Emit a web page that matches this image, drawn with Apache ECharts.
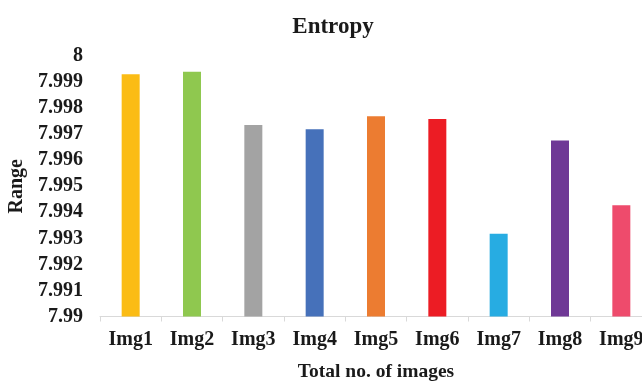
<!DOCTYPE html>
<html>
<head>
<meta charset="utf-8">
<script src="https://cdn.jsdelivr.net/npm/echarts@6/dist/echarts.min.js"></script>
<style>
  html, body { margin: 0; padding: 0; background: #ffffff; }
  #chart { width: 642px; height: 381px; }
</style>
</head>
<body>
<div id="chart"></div>
<script>
// Entropy value of each test image
const categories = ['Img1', 'Img2', 'Img3', 'Img4', 'Img5', 'Img6', 'Img7', 'Img8', 'Img9'];
const entropyValues = [7.9993, 7.9994, 7.99735, 7.99719, 7.99769, 7.99758, 7.99318, 7.99676, 7.99427];
const barColors = ['#FBBC15', '#8FC84F', '#A3A3A3', '#4671BA', '#EC7C31', '#EC1C24', '#27ACE2', '#6F3896', '#EE4B6C'];
const yMin = 7.99;
const yMax = 8;
const yStep = 0.001;

const serif = '"Liberation Serif", "Times New Roman", serif';
const ink = '#1a1a1a';

const chart = echarts.init(document.getElementById('chart'), null, { renderer: 'canvas' });

chart.setOption({
  backgroundColor: '#ffffff',
  animation: false,
  title: {
    text: 'Entropy',
    left: 328,
    top: 11,
    textAlign: 'center',
    textStyle: { fontFamily: serif, fontWeight: 'bold', fontSize: 23, color: ink }
  },
  // fixed plot box; the last category runs slightly past the right edge
  grid: { left: 100, top: 56, width: 552, height: 260.5, outerBoundsMode: 'none', containLabel: false },
  xAxis: {
    type: 'category',
    data: categories,
    name: 'Total no. of images',
    nameLocation: 'middle',
    nameGap: 45,
    nameTextStyle: { fontFamily: serif, fontWeight: 'bold', fontSize: 19.5, color: ink },
    axisLine: { lineStyle: { color: '#d9d9d9', width: 1 } },
    axisTick: { show: true, length: 5, lineStyle: { color: '#d9d9d9' } },
    axisLabel: { fontFamily: serif, fontWeight: 'bold', fontSize: 20, color: ink, margin: 13 }
  },
  yAxis: {
    type: 'value',
    min: yMin,
    max: yMax,
    interval: yStep,
    name: 'Range',
    nameLocation: 'middle',
    nameGap: 68,
    nameTextStyle: { fontFamily: serif, fontWeight: 'bold', fontSize: 20, color: ink },
    axisLine: { show: false },
    axisTick: { show: false },
    splitLine: { show: false },
    axisLabel: {
      fontFamily: serif, fontWeight: 'bold', fontSize: 20, color: ink, margin: 17,
      formatter: v => String(parseFloat(v.toFixed(3)))
    }
  },
  series: [{
    type: 'bar',
    barWidth: 18,
    data: entropyValues.map((v, i) => ({ value: v, itemStyle: { color: barColors[i] } }))
  }]
});
</script>
</body>
</html>
